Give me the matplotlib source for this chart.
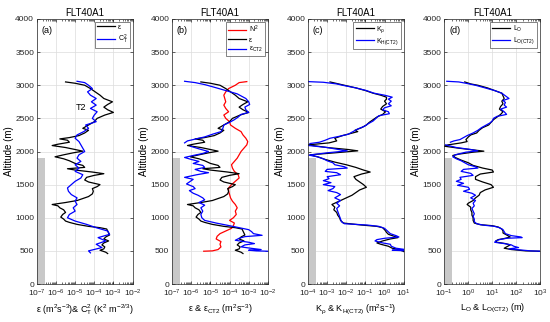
import matplotlib
matplotlib.use('Agg')
import matplotlib.pyplot as plt
import numpy as np

plt.rcParams['font.family'] = ['Liberation Sans', 'DejaVu Sans']
plt.rcParams['mathtext.default'] = 'regular'

nan = np.nan

# epsilon (black, panels a and b): altitude (m), log10 value
eps_alt = [3050, 3030, 3000, 2950, 2900, 2850, 2800, 2750, 2710, 2670, 2630, 2590, 2550, 2500, 2450,
           2400, 2350, 2320, 2280, 2240, 2210, 2190, 2170, 2140, 2110, 2090, 2060, 2030, 2005, 1980,
           1950, 1920, 1890, 1860, 1820, 1790, 1760, 1740, 1720, 1690, 1665, 1640, 1610, 1570, 1540,
           1500, 1470, 1440, 1400, 1360, 1320, 1290, 1260, 1230, 1200, 1180, 1150, 1120, 1080, 1050,
           1010, 980, 950, 930, 900, 870, 850, 830, 800, 770, 740, 710, 680, 650, 620,
           590, 560, 530, 510, 480, 460]
eps_log = [-5.5, -5.0, -4.5, -4.2, -3.95, -3.7, -3.5, -3.05, -3.3, -3.5, -3.3, -3.0, -3.45, -3.85, -4.0,
           -4.3, -4.6, -4.3, -4.5, -4.8, -5.3, -5.8, -5.4, -5.3, -5.9, -6.2, -5.5, -5.0, -4.6, -5.1,
           -5.6, -6.05, -5.6, -5.3, -5.0, -4.6, -4.5, -5.4, -5.0, -4.1, -3.5, -4.0, -4.4, -4.5, -4.3,
           -3.7, -3.85, -4.1, -4.05, -4.1, -4.3, -4.6, -4.9, -5.5, -6.2, -5.9, -5.8, -5.6, -5.5, -5.65,
           -5.75, -5.6, -5.5, -5.3, -4.9, -4.3, -3.7, -3.35, -3.3, -3.25, -3.2, -3.4, -3.5, -3.25, -3.5,
           -3.6, -3.45, -3.5, -3.7, -3.4, -3.3]

# C_T^2 (blue, panel a)
ct2_alt = [3060, 3040, 3000, 2950, 2900, 2850, 2800, 2750, 2700, 2650, 2600, 2550, 2500, 2450, 2400,
           2350, 2300, 2250, 2200, 2150, 2100, 2050, 2000, 1950, 1900, 1850, 1800, 1750, 1700, 1650,
           1600, 1550, 1500, 1450, 1400, 1350, 1300, 1250, 1200, 1150, 1100, 1050, 1000, 950, 900,
           850, 800, 750, 700, 650, 600, 550, 500, 470]
ct2_log = [-4.9, -4.5, -4.3, -4.1, -4.35, -4.2, -3.9, -4.15, -3.9, -4.2, -3.85, -4.0, -4.1, -3.9, -4.45,
           -4.3, -4.55, -4.9, -5.0, -4.8, -4.7, -4.6, -4.5, -4.8, -4.9, -4.7, -5.0, -4.8, -5.0, -4.6,
           -4.7, -5.0, -5.2, -5.4, -5.35, -5.2, -4.9, -5.0, -4.9, -5.1, -5.0, -5.3, -5.4, -5.0, -4.4,
           -3.9, -3.3, -3.2, -3.8, -3.4, -3.9, -3.6, -4.3, -4.2]

# N^2 (red, panel b)
n2_alt = [3055, 3040, 3000, 2950, 2900, 2850, 2800, 2750, 2700, 2650, 2600, 2550, 2500, 2450, 2400,
          2350, 2300, 2250, 2200, 2150, 2100, 2050, 2000, 1950, 1900, 1850, 1800, 1750, 1700, 1650,
          1600, 1550, 1500, 1450, 1400, 1350, 1300, 1250, 1200, 1150, 1100, 1050, 1000, 960, 920,
          880, 840, 800, 760, 720, 680, 640, 600, 560, 520, 500, 495]
n2_log = [-3.1, -3.5, -3.7, -4.05, -4.2, -4.3, -4.25, -4.2, -4.3, -4.2, -4.05, -4.3, -4.2, -4.0, -3.95,
          -3.7, -3.4, -3.3, -3.15, -3.05, -3.1, -3.25, -3.4, -3.5, -3.6, -3.75, -3.9, -3.85, -3.75, -3.55,
          -3.5, -3.7, -3.9, -4.05, -4.05, -4.0, -3.95, -3.85, -3.7, -3.6, -3.7, -3.65, -3.8, -4.0, -3.75,
          -3.8, -3.9, -4.2, -4.5, -4.65, -4.7, -4.45, -4.5, -4.45, -4.6, -4.9, -5.35]

# epsilon_CT2 (blue, panel b)
ect2_alt = [3060, 3040, 3010, 2970, 2920, 2870, 2800, 2750, 2710, 2670, 2630, 2590, 2560, 2520, 2480,
            2440, 2400, 2350, 2300, 2260, 2220, 2190, 2160, 2130, 2105, 2080, 2040, 2000, 1970, 1940,
            1910, 1880, 1850, 1820, 1790, 1760, 1730, 1700, 1680, 1650, 1610, 1580, 1540, 1510, 1470,
            1440, 1410, 1370, 1340, 1300, 1270, 1230, 1190, 1150, 1100, 1050, 1000, 960, 920, 880,
            850, 820, 790, 760, 735, 715, 690, 660, 630, 610, 590, 560, 540, 520, 510,
            500, 495]
ect2_log = [-6.35, -5.8, -5.3, -4.8, -4.2, -3.6, -3.15, -3.0, -2.95, -3.2, -3.15, -3.0, -3.4, -3.55, -3.75,
            -4.0, -4.3, -4.35, -4.45, -4.9, -5.3, -5.75, -6.2, -6.35, nan, -6.05, -5.6, -5.1, -5.4, -5.9,
            -6.35, -6.0, -5.6, -5.9, -5.4, -5.3, -5.8, -5.5, -5.1, -5.7, -6.35, -5.9, -6.1, -6.25, -5.9,
            -5.8, -6.1, -5.9, -5.65, -5.4, -5.3, -5.6, -5.3, -5.5, -5.4, -5.5, -5.45, -5.3, -4.7, -4.0,
            -3.5, -3.0, -2.85, -2.75, -2.3, -3.2, -3.5, -3.7, -3.0, -2.7, -3.2, -3.4, -2.9, -2.35, -3.0,
            -2.6, -2.0]

# K_rho (black, panel c)
krho_alt = [3050, 3020, 3000, 2960, 2920, 2880, 2850, 2820, 2790, 2760, 2720, 2680, 2640, 2600, 2560,
            2520, 2480, 2440, 2400, 2360, 2320, 2300, 2270, 2240, 2200, 2160, 2130, 2100, 2060, 2030,
            2010, 1980, 1950, 1920, 1880, 1840, 1800, 1760, 1720, 1690, 1660, 1620, 1580, 1540, 1500,
            1460, 1420, 1380, 1340, 1300, 1260, 1220, 1200, 1160, 1120, 1080, 1040, 1000, 960, 920,
            890, 870, 850, 810, 780, 750, 720, 700, 680, 650, 620, 600, 570, 540, 520,
            500, 490]
krho_log = [-2.85, -2.4, -2.1, -1.5, -1.0, -0.6, -0.2, 0.1, 0.1, 0.0, 0.1, -0.1, -0.2, 0.05, -0.1,
            -0.4, -0.6, -0.8, -0.95, -1.2, -1.55, -1.4, -1.8, -2.2, -2.6, -2.5, -2.9, -4.0, -3.0, -1.9,
            -1.4, -2.6, -3.9, -3.5, -3.1, -2.6, -2.0, -1.5, -1.1, -0.75, -1.2, -1.6, -1.5, -1.3, -1.1,
            -0.95, -1.3, -1.5, -1.7, -2.0, -2.3, -2.6, -2.75, -2.6, -2.65, -2.5, -2.45, -2.35, -2.3, -2.15,
            -1.2, -0.4, -0.1, 0.03, 0.1, 0.2, 0.5, 0.7, 0.3, -0.1, -0.4, -0.2, 0.2, 0.4, 0.8,
            1.0, 1.0]

# K_H(CT2) (blue, panel c)
kh_alt = [3055, 3045, 3020, 3000, 2960, 2920, 2880, 2850, 2820, 2790, 2760, 2720, 2690, 2660, 2630,
          2600, 2570, 2540, 2500, 2460, 2420, 2380, 2340, 2300, 2260, 2230, 2200, 2170, 2140, 2120,
          2105, 2090, 2060, 2030, 2010, 1980, 1945, 1920, 1890, 1860, 1830, 1800, 1770, 1750, 1730,
          1700, 1680, 1650, 1620, 1590, 1560, 1530, 1500, 1470, 1440, 1410, 1380, 1350, 1300, 1260,
          1220, 1180, 1140, 1100, 1060, 1020, 980, 940, 910, 890, 870, 840, 800, 760, 730,
          710, 690, 670, 650, 620, 600, 570, 540, 520, 510, 500]
kh_log = [-4.0, -3.2, -2.5, -2.2, -1.5, -0.95, -0.55, 0.0, 0.4, 0.2, 0.35, 0.2, 0.35, 0.0, -0.1,
          0.2, 0.25, -0.3, -0.45, -0.6, -0.85, -1.05, -1.4, -1.65, -1.9, -2.35, -2.85, -3.1, -3.4, -3.9,
          nan, -3.95, -3.0, -2.4, -1.95, -3.0, -3.95, -3.5, -3.2, -3.0, -2.7, -2.6, -2.1, -1.95, -3.0,
          -3.1, -2.5, -2.3, -3.0, -2.9, -3.2, -2.8, -3.2, -2.6, -2.7, -2.95, -2.5, -2.3, -2.6, -2.3,
          -2.5, -2.35, -2.5, -2.45, -2.4, -2.35, -2.3, -2.25, -2.1, -0.9, -0.3, 0.0, 0.15, 0.3, 0.6,
          0.75, 0.0, -0.4, -0.5, -0.1, 0.3, 0.35, 0.6, 1.1, 0.4, 1.2]

# L_O (black, panel d)
lo_alt = [3050, 3020, 3000, 2960, 2920, 2880, 2840, 2800, 2760, 2720, 2680, 2640, 2600, 2560, 2520,
          2480, 2440, 2400, 2360, 2320, 2280, 2250, 2220, 2180, 2150, 2130, 2100, 2080, 2050, 2020,
          2005, 1990, 1960, 1940, 1910, 1870, 1830, 1790, 1750, 1720, 1690, 1660, 1620, 1580, 1540,
          1500, 1460, 1420, 1380, 1340, 1300, 1260, 1220, 1200, 1160, 1120, 1080, 1040, 1000, 960,
          920, 895, 880, 860, 830, 800, 770, 740, 710, 690, 670, 650, 630, 610, 590,
          560, 540, 520, 500, 495]
lo_log = [-0.15, 0.1, 0.4, 0.8, 1.1, 1.4, 1.45, 1.5, 1.4, 1.45, 1.35, 1.3, 1.45, 1.35, 1.2,
          1.05, 0.95, 0.85, 0.6, 0.45, 0.35, 0.1, 0.0, -0.1, -0.05, -0.3, -0.85, -1.0, -0.4, 0.3,
          0.65, 0.2, -0.4, -0.65, -0.55, -0.3, 0.0, 0.2, 0.6, 1.0, 1.05, 0.5, 0.3, 0.3, 0.6,
          0.95, 1.05, 0.7, 0.5, 0.45, 0.3, 0.2, 0.0, -0.05, 0.1, 0.1, 0.15, 0.15, 0.2, 0.2,
          0.25, 0.5, 1.0, 1.25, 1.4, 1.45, 1.45, 1.6, 1.75, 1.55, 1.25, 1.15, 1.2, 1.55, 1.75,
          1.6, 1.5, 1.8, 2.4, 2.97]

# L_O(CT2) (blue, panel d)
loct_alt = [3060, 3050, 3030, 3000, 2960, 2920, 2880, 2840, 2800, 2770, 2740, 2700, 2670, 2640, 2600,
            2560, 2530, 2500, 2460, 2430, 2400, 2360, 2320, 2280, 2240, 2210, 2180, 2160, 2140, 2120,
            2100, 2060, 2030, 2010, 1990, 1950, 1920, 1890, 1860, 1830, 1800, 1770, 1750, 1730, 1700,
            1670, 1640, 1610, 1580, 1550, 1520, 1490, 1460, 1430, 1400, 1370, 1340, 1300, 1260, 1220,
            1180, 1140, 1100, 1060, 1020, 980, 940, 910, 890, 870, 850, 820, 790, 760, 730,
            710, 700, 690, 670, 650, 630, 610, 590, 570, 550, 530, 510, 500, 495]
loct_log = [-0.9, -0.4, -0.1, 0.3, 0.7, 1.1, 1.4, 1.55, 1.7, 1.45, 1.55, 1.5, 1.6, 1.35, 1.5,
            1.6, 1.2, 1.05, 1.0, 0.9, 0.75, 0.55, 0.4, 0.2, -0.05, -0.2, -0.35, -0.6, -0.75, nan,
            -0.95, -0.5, 0.1, 0.4, -0.1, -0.55, -0.65, -0.5, -0.3, -0.15, 0.0, 0.3, 0.4, -0.2, -0.3,
            0.1, 0.2, -0.35, -0.3, -0.5, -0.2, -0.45, 0.0, 0.05, -0.2, 0.15, 0.3, 0.1, 0.3, 0.2,
            0.25, 0.15, 0.2, 0.25, 0.2, 0.25, 0.25, 0.35, 0.6, 1.1, 1.3, 1.45, 1.5, 1.55, 1.8,
            2.2, 2.25, 1.6, 1.3, 1.15, 1.1, 1.5, 1.8, 1.9, 2.1, 1.7, 2.3, 2.6, 3.0]

# x limits (decade exponents) and grey bar (0 - 1900 m) right edge per panel
xdecades = [(-7, -2), (-7, -2), (-4, 1), (-1, 3)]
grey_top = 1900
grey_right = [2.6e-7, 2.6e-7, 2.6e-4, 0.2]

panel_tags = ['(a)', '(b)', '(c)', '(d)']
xlabels = ['ε (m$^2$s$^{-3}$)& C$_T^2$ (K$^2$ m$^{-2/3}$)',
           'ε & ε$_{CT2}$ (m$^2$s$^{-3}$)',
           'K$_ρ$ & K$_{H(CT2)}$ (m$^2$s$^{-1}$)',
           'L$_O$ & L$_{O(CT2)}$ (m)']

lefts = [0.067, 0.313, 0.56, 0.808]
fig = plt.figure(figsize=(5.5, 3.22), dpi=100)
axes = []
for i in range(4):
    ax = fig.add_axes([lefts[i], 0.118, 0.174, 0.823])
    ax.set_xscale('log')
    d0, d1 = xdecades[i]
    ax.set_xlim(10.0 ** d0, 10.0 ** d1)
    ax.set_xticks(10.0 ** np.arange(d0, d1 + 1))
    ax.xaxis.set_minor_locator(matplotlib.ticker.LogLocator(base=10, subs=np.arange(2, 10), numticks=20))
    ax.xaxis.set_minor_formatter(matplotlib.ticker.NullFormatter())
    ax.set_ylim(0, 4000)
    ax.set_yticks(np.arange(0, 4001, 500))
    ax.grid(True, which='major', color='#dcdcdc', lw=0.5)
    ax.set_axisbelow(True)
    ax.tick_params(direction='in', labelsize=6, colors='#262626', length=2.5, width=0.5,
                   top=True, right=True, pad=2)
    ax.tick_params(axis='x', pad=3)
    ax.tick_params(which='minor', direction='in', length=1.2, width=0.4, top=True)
    for s in ax.spines.values():
        s.set_linewidth(0.5)
        s.set_color('#262626')
    ax.fill_betweenx([0, grey_top], 10.0 ** d0, grey_right[i], color='#c8c8c8', lw=0, zorder=1.5)
    ax.set_title('FLT40A1', fontsize=7, pad=2)
    ax.set_ylabel('Altitude (m)', fontsize=7, labelpad=1)
    ax.set_xlabel(xlabels[i], fontsize=6.5, labelpad=2)
    ax.text(0.05, 0.975, panel_tags[i], transform=ax.transAxes, fontsize=6.5, va='top', ha='left')
    axes.append(ax)

def pw(v):
    return 10.0 ** np.array(v)

lw = 0.9
axa, axb, axc, axd = axes
axa.plot(pw(eps_log), eps_alt, color='k', lw=lw, label='ε')
axa.plot(pw(ct2_log), ct2_alt, color='b', lw=lw, label='C$_T^2$')
axa.text(1.1e-5, 2620, 'T2', fontsize=6.5)

axb.plot(pw(n2_log), n2_alt, color='r', lw=lw, label='N$^2$')
axb.plot(pw(eps_log), eps_alt, color='k', lw=lw, label='ε')
axb.plot(pw(ect2_log), ect2_alt, color='b', lw=lw, label='ε$_{CT2}$')

axc.plot(pw(krho_log), krho_alt, color='k', lw=lw, label='K$_ρ$')
axc.plot(pw(kh_log), kh_alt, color='b', lw=lw, label='K$_{H(CT2)}$')

axd.plot(pw(lo_log), lo_alt, color='k', lw=lw, label='L$_O$')
axd.plot(pw(loct_log), loct_alt, color='b', lw=lw, label='L$_{O(CT2)}$')

for ax in axes:
    leg = ax.legend(loc='upper right', fontsize=5, handlelength=2.6, borderpad=0.3,
                    labelspacing=0.2, handletextpad=0.4, fancybox=False, borderaxespad=0.4)
    leg.get_frame().set_edgecolor('#262626')
    leg.get_frame().set_linewidth(0.5)

fig.savefig('out.png', dpi=100)
